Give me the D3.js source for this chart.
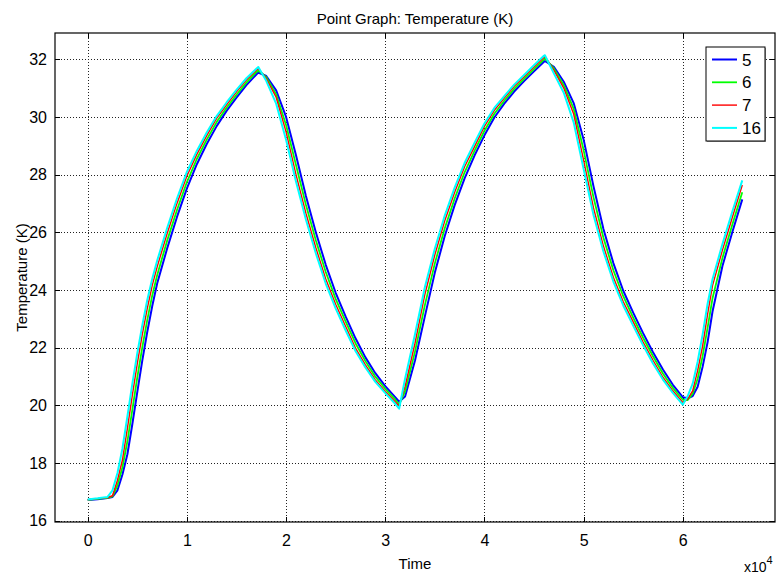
<!DOCTYPE html>
<html>
<head>
<meta charset="utf-8">
<script src="https://cdn.jsdelivr.net/npm/d3@7"></script>
<style>
  body { margin: 0; background: #fff; }
  svg { display: block; }
  text { font-family: "Liberation Sans", Arial, Helvetica, sans-serif; fill: #000; }
</style>
</head>
<body>
<svg id="chart" width="777" height="574"></svg>
<script>
// Probe output times (s)
const times = [0, 1000, 2000, 2500, 3000, 3500, 4000, 4500, 5000, 5500, 6000, 6500, 7000, 8000, 9000,
  10000, 11000, 12000, 13000, 14000, 15000, 16000, 17000, 17200, 18000, 19000, 20000, 21000, 22000,
  23000, 24000, 25000, 26000, 27000, 28000, 29000, 30000, 31000, 31400, 32000, 33000, 34000, 35000,
  36000, 37000, 38000, 39000, 40000, 41000, 42000, 43000, 44000, 45000, 46000, 46100, 47000, 48000,
  49000, 50000, 51000, 52000, 53000, 54000, 55000, 56000, 57000, 58000, 59000, 60000, 60500, 61000,
  61500, 62000, 62500, 63000, 64000, 65000, 66000];

// Temperature (K) at each probe point
const temp5 = [16.71, 16.74, 16.78, 16.82, 17.05, 17.60, 18.30, 19.35, 20.46, 21.55, 22.54, 23.43, 24.22, 25.43, 26.53,
  27.52, 28.36, 29.06, 29.68, 30.21, 30.67, 31.10, 31.47, 31.54, 31.42, 30.92, 30.00, 28.67, 27.26,
  26.00, 24.87, 23.90, 23.08, 22.32, 21.66, 21.11, 20.66, 20.28, 20.12, 20.30, 21.55, 23.09, 24.60,
  25.87, 26.94, 27.87, 28.66, 29.36, 29.98, 30.46, 30.88, 31.24, 31.58, 31.91, 31.94, 31.74, 31.22,
  30.48, 29.22, 27.59, 26.11, 24.93, 23.97, 23.21, 22.50, 21.84, 21.24, 20.71, 20.28, 20.24, 20.32,
  20.64, 21.33, 22.18, 23.25, 24.83, 26.01, 27.14];

const temp6 = [16.72, 16.75, 16.79, 16.84, 17.22, 17.85, 18.75, 19.85, 20.97, 22.01, 22.95, 23.80, 24.51, 25.70, 26.77,
  27.74, 28.54, 29.21, 29.82, 30.32, 30.77, 31.19, 31.55, 31.61, 31.38, 30.78, 29.72, 28.33, 26.95,
  25.72, 24.62, 23.69, 22.91, 22.15, 21.53, 20.99, 20.57, 20.20, 20.03, 20.48, 21.86, 23.48, 24.92,
  26.14, 27.17, 28.08, 28.82, 29.52, 30.11, 30.56, 30.97, 31.32, 31.66, 31.99, 32.03, 31.68, 31.10,
  30.28, 28.85, 27.21, 25.81, 24.68, 23.78, 23.04, 22.34, 21.70, 21.10, 20.60, 20.19, 20.18, 20.40,
  20.92, 21.70, 22.68, 23.71, 25.11, 26.27, 27.39];

const temp7 = [16.72, 16.76, 16.80, 16.86, 17.40, 18.10, 19.20, 20.35, 21.45, 22.45, 23.35, 24.15, 24.80, 25.95, 27.00,
  27.95, 28.70, 29.35, 29.95, 30.42, 30.87, 31.28, 31.62, 31.68, 31.33, 30.68, 29.48, 28.00, 26.66,
  25.46, 24.38, 23.50, 22.74, 21.98, 21.40, 20.88, 20.48, 20.12, 19.97, 20.65, 22.15, 23.85, 25.22,
  26.40, 27.39, 28.27, 28.97, 29.67, 30.23, 30.65, 31.06, 31.39, 31.73, 32.06, 32.10, 31.62, 31.00,
  30.10, 28.50, 26.84, 25.52, 24.44, 23.59, 22.89, 22.19, 21.56, 20.97, 20.50, 20.10, 20.22, 20.50,
  21.20, 22.05, 23.15, 24.15, 25.38, 26.52, 27.64];

const temp16 = [16.73, 16.77, 16.82, 17.05, 17.65, 18.50, 19.61, 20.75, 21.81, 22.77, 23.64, 24.38, 25.01, 26.14, 27.17,
  28.09, 28.82, 29.46, 30.03, 30.50, 30.94, 31.34, 31.67, 31.73, 31.25, 30.46, 29.21, 27.76, 26.44,
  25.27, 24.22, 23.36, 22.60, 21.88, 21.31, 20.81, 20.42, 20.05, 19.88, 20.92, 22.46, 24.10, 25.43,
  26.58, 27.55, 28.40, 29.10, 29.77, 30.31, 30.72, 31.12, 31.45, 31.79, 32.12, 32.14, 31.51, 30.84,
  29.81, 28.20, 26.60, 25.33, 24.29, 23.46, 22.76, 22.08, 21.45, 20.89, 20.43, 20.02, 20.32, 20.75,
  21.51, 22.45, 23.51, 24.37, 25.59, 26.72, 27.80];

const seriesNames = ["5", "6", "7", "16"];
const seriesColors = ["#0000ff", "#00ff00", "#ff0000", "#00ffff"];
const seriesWidths = [2, 1.8, 1.4, 2];
const seriesValues = [temp5, temp6, temp7, temp16];

const xTicks = [0, 10000, 20000, 30000, 40000, 50000, 60000];
const yTicks = [16, 18, 20, 22, 24, 26, 28, 30, 32];

const svg = d3.select("#chart");
const L = 55, R = 775, T = 33, B = 522;

const x = d3.scaleLinear().domain([-3300, 69300]).range([L, R]);
const y = d3.scaleLinear().domain([15.95, 32.91]).range([B, T]);

// grid
const grid = svg.append("g").attr("class", "grid");
grid.append("g")
  .attr("transform", `translate(0,${B})`)
  .call(d3.axisBottom(x).tickValues(xTicks).tickSize(-(B - T)).tickFormat(""))
  .call(g => g.select(".domain").remove());
grid.append("g")
  .attr("transform", `translate(${L},0)`)
  .call(d3.axisLeft(y).tickValues(yTicks).tickSize(-(R - L)).tickFormat(""))
  .call(g => g.select(".domain").remove());
grid.selectAll("line")
  .attr("stroke", "#222")
  .attr("stroke-width", 1)
  .attr("stroke-dasharray", "1,2")
  .attr("shape-rendering", "crispEdges");

// curves
svg.append("defs").append("clipPath").attr("id", "plotClip")
  .append("rect").attr("x", L).attr("y", T).attr("width", R - L).attr("height", B - T);

const line = d3.line().x(d => x(d[0])).y(d => y(d[1]));
const curves = svg.append("g").attr("clip-path", "url(#plotClip)");
seriesValues.forEach((vals, i) => {
  curves.append("path")
    .datum(times.map((t, k) => [t, vals[k]]))
    .attr("fill", "none")
    .attr("stroke", seriesColors[i])
    .attr("stroke-width", seriesWidths[i])
    .attr("stroke-linejoin", "round")
    .attr("d", line);
});

// axes with inward ticks on all four sides
const axisStyle = g => {
  g.select(".domain").remove();
  g.selectAll(".tick line").attr("stroke", "#000").attr("shape-rendering", "crispEdges");
  g.selectAll(".tick text").attr("font-size", "16px");
};
svg.append("g").attr("transform", `translate(0,${B})`)
  .call(d3.axisBottom(x).tickValues(xTicks).tickSizeInner(-5).tickSizeOuter(0).tickPadding(13)
    .tickFormat(d => d / 10000))
  .call(axisStyle);
svg.append("g").attr("transform", `translate(0,${T})`)
  .call(d3.axisTop(x).tickValues(xTicks).tickSizeInner(-5).tickSizeOuter(0).tickFormat(""))
  .call(axisStyle);
svg.append("g").attr("transform", `translate(${L},0)`)
  .call(d3.axisLeft(y).tickValues(yTicks).tickSizeInner(-5).tickSizeOuter(0).tickPadding(8))
  .call(axisStyle);
svg.append("g").attr("transform", `translate(${R},0)`)
  .call(d3.axisRight(y).tickValues(yTicks).tickSizeInner(-5).tickSizeOuter(0).tickFormat(""))
  .call(axisStyle);

// frame
svg.append("rect")
  .attr("x", L).attr("y", T).attr("width", R - L).attr("height", B - T)
  .attr("fill", "none").attr("stroke", "#000").attr("stroke-width", 1.2);

// titles
svg.append("text").attr("x", (L + R) / 2).attr("y", 24)
  .attr("text-anchor", "middle").attr("font-size", "15px")
  .text("Point Graph: Temperature (K)");
svg.append("text").attr("x", (L + R) / 2).attr("y", 569)
  .attr("text-anchor", "middle").attr("font-size", "15px")
  .text("Time");
svg.append("text")
  .attr("transform", `translate(27,${(T + B) / 2}) rotate(-90)`)
  .attr("text-anchor", "middle").attr("font-size", "15px")
  .text("Temperature (K)");
const exp = svg.append("text").attr("x", 744).attr("y", 572).attr("font-size", "14px");
exp.append("tspan").text("x10");
exp.append("tspan").attr("dy", -8).attr("font-size", "11px").text("4");

// legend
const lg = svg.append("g").attr("transform", "translate(706,47)");
lg.append("rect").attr("x", 1).attr("y", 1).attr("width", 59).attr("height", 94).attr("fill", "#999");
lg.append("rect").attr("width", 59).attr("height", 94)
  .attr("fill", "#fff").attr("stroke", "#000").attr("stroke-width", 1);
seriesNames.forEach((name, i) => {
  const cy = 12.5 + i * 22.8;
  lg.append("line").attr("x1", 6).attr("x2", 31).attr("y1", cy).attr("y2", cy)
    .attr("stroke", seriesColors[i]).attr("stroke-width", seriesWidths[i]);
  lg.append("text").attr("x", 36).attr("y", cy + 6).attr("font-size", "17px").text(name);
});
</script>
</body>
</html>
